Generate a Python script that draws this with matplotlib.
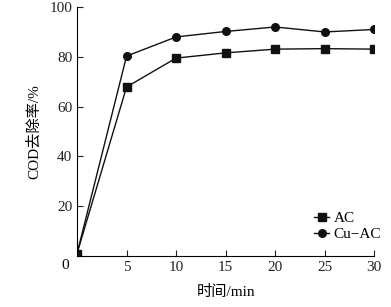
import matplotlib
matplotlib.use("Agg")
import matplotlib.pyplot as plt

time_min = [0, 5, 10, 15, 20, 25, 30]
ac = [1, 67.9, 79.5, 81.6, 83.1, 83.3, 83.1]
cu_ac = [1, 80.3, 88.0, 90.2, 92.0, 90.0, 91.0]
xticks = [5, 10, 15, 20, 25, 30]
yticks = [0, 20, 40, 60, 80, 100]

plt.rcParams['font.family'] = ['Liberation Serif', 'Noto Sans CJK SC']
plt.rcParams['mathtext.fontset'] = 'stix'

fig = plt.figure(figsize=(3.91, 3.07), dpi=100)
ax = fig.add_axes([0.197, 0.166, 0.76, 0.811])
ax.plot(time_min, ac, '-s', color='#111111', lw=1.0, ms=5.5, label='AC')
ax.plot(time_min, cu_ac, '-o', color='#111111', lw=1.0, ms=5.5, label='Cu\u2212AC')
ax.set_xlim(0, 30)
ax.set_ylim(0, 100)
ax.set_xticks(xticks)
ax.set_yticks(yticks)
ax.spines['top'].set_visible(False)
ax.spines['right'].set_visible(False)
ax.tick_params(direction='in', length=4, labelsize=11, colors='#222222')
ax.set_xlabel('时间/min', fontsize=11, labelpad=8, family=['Liberation Serif', 'Noto Sans CJK SC'])
ax.set_ylabel('COD去除率/%', fontsize=11, labelpad=6, family=['Liberation Serif', 'Noto Sans CJK SC'])
ax.text(-0.8, -1, '0', ha='right', va='top', fontsize=11, transform=ax.transData)
ax.set_yticklabels(['', '20', '40', '60', '80', '100'])
leg = ax.legend(loc='lower right', bbox_to_anchor=(1.07, 0.005), frameon=False,
                fontsize=11, handlelength=1.0, handletextpad=0.3, labelspacing=0.15)
fig.savefig('out.png', dpi=100)
